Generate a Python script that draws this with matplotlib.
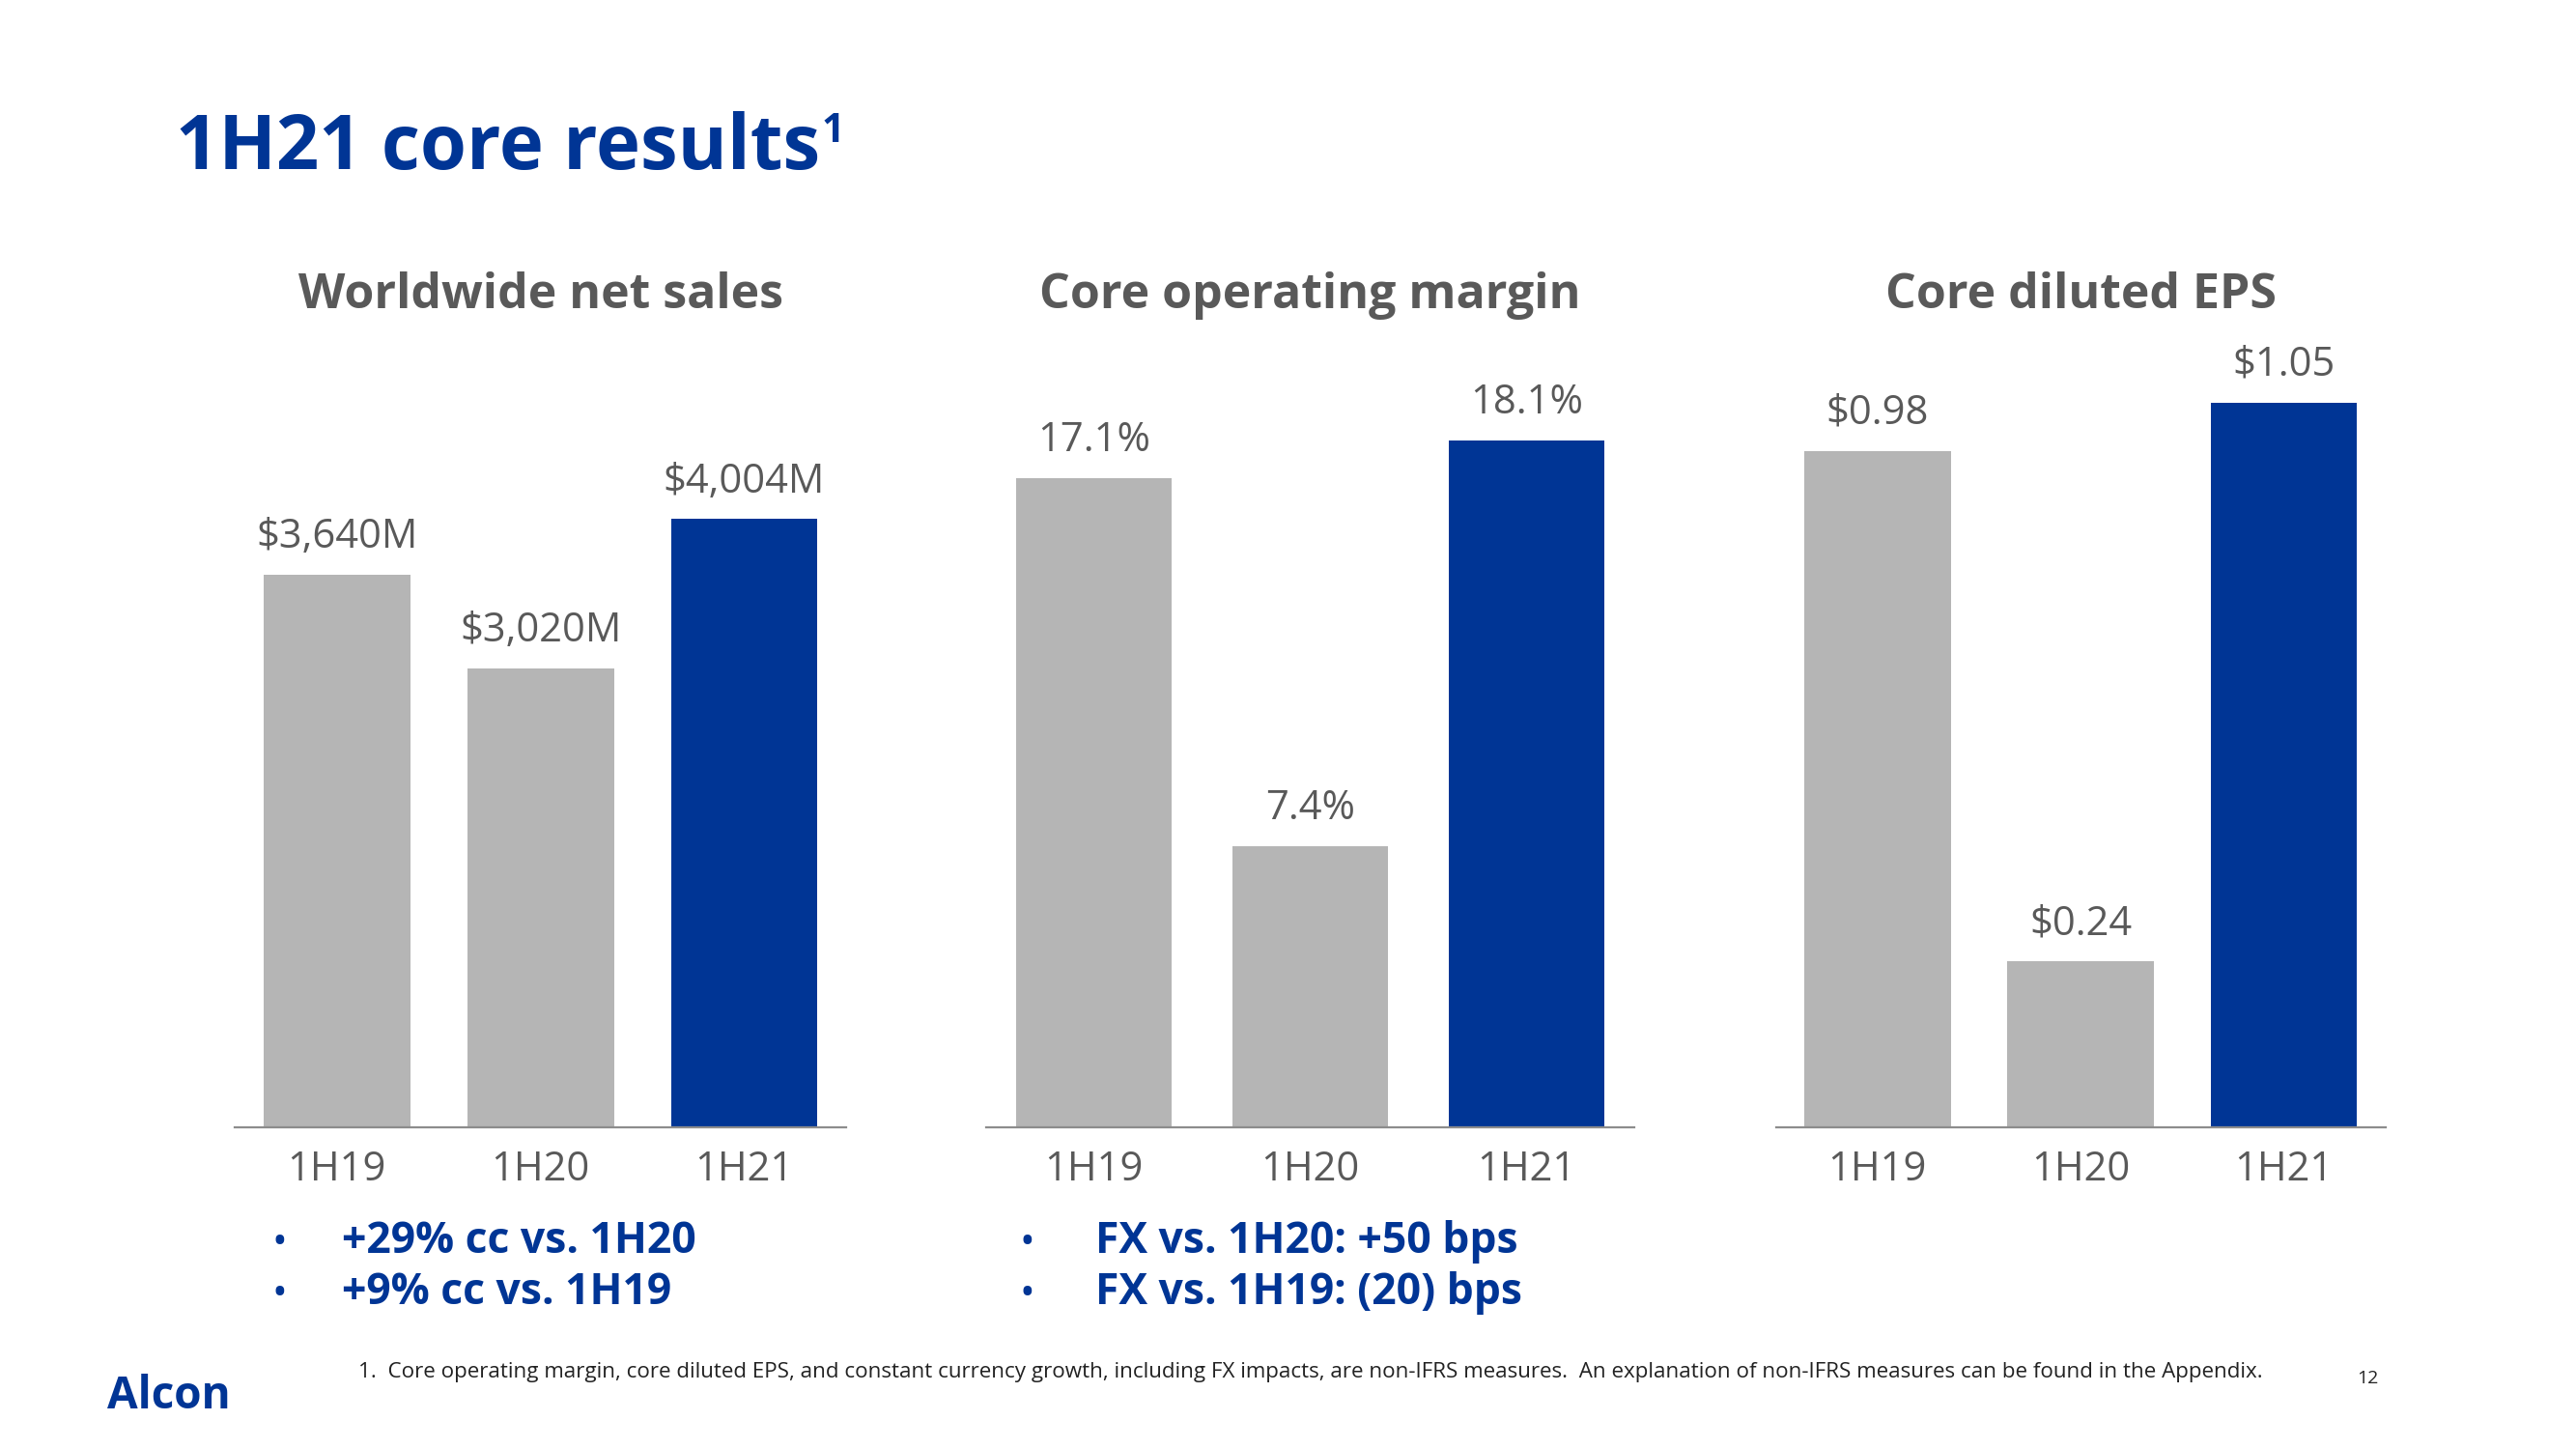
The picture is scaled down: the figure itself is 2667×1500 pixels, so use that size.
import matplotlib
matplotlib.use("Agg")
import matplotlib.pyplot as plt

# === Data ===
periods = ["1H19", "1H20", "1H21"]
net_sales = [3640, 3020, 4004]
op_margin = [17.1, 7.4, 18.1]
eps = [0.98, 0.24, 1.05]

sales_labels = ["$3,640M", "$3,020M", "$4,004M"]
margin_labels = ["17.1%", "7.4%", "18.1%"]
eps_labels = ["$0.98", "$0.24", "$1.05"]

panel_titles = ["Worldwide net sales", "Core operating margin", "Core diluted EPS"]
bullets_sales = ["+29% cc vs. 1H20", "+9% cc vs. 1H19"]
bullets_margin = ["FX vs. 1H20: +50 bps", "FX vs. 1H19: (20) bps"]

# === Style ===
BLUE = "#003595"
GRAY_BAR = "#B5B5B5"
TEXT_GRAY = "#595959"
plt.rcParams["font.family"] = ["Open Sans", "DejaVu Sans"]

W, H = 1568, 882  # layout grid (reference pixels, shrunk)


def fx(x):
    return x / W


def fy(y):
    return 1 - y / H


fig = plt.figure(figsize=(26.67, 15), dpi=100)

# axes boxes: left, right (x) in grid px; baseline at 686, top at 200
boxes = [(143, 515), (600, 995), (1081, 1452)]
ylims = [(686 - 200) / 0.0924, (686 - 200) / 23.1, (686 - 200) / 420]
values = [net_sales, op_margin, eps]
labels = [sales_labels, margin_labels, eps_labels]
colors = [GRAY_BAR, GRAY_BAR, BLUE]

for (x0, x1), top, vals, labs, title in zip(boxes, ylims, values, labels, panel_titles):
    ax = fig.add_axes([fx(x0), fy(686), (x1 - x0) / W, (686 - 200) / H])
    ax.bar(range(3), vals, width=0.72, color=colors)
    ax.set_xlim(-0.5, 2.5)
    ax.set_ylim(0, top)
    for i, (v, lab) in enumerate(zip(vals, labs)):
        ax.annotate(lab, (i, v), xytext=(0, 28), textcoords="offset points",
                    ha="center", va="center", fontsize=30, color=TEXT_GRAY)
    for s in ["top", "right", "left"]:
        ax.spines[s].set_visible(False)
    ax.spines["bottom"].set_color("#8C8C8C")
    ax.spines["bottom"].set_linewidth(1.6)
    ax.set_yticks([])
    ax.set_xticks(range(3))
    ax.set_xticklabels(periods, fontsize=30, color=TEXT_GRAY)
    ax.tick_params(axis="x", length=0, pad=17)
    ax.patch.set_alpha(0)
    fig.text(fx((x0 + x1) / 2), fy(180), title, ha="center", va="center",
             fontsize=36, fontweight="bold", color=TEXT_GRAY)

# === Title with superscript ===
t = fig.text(fx(107), fy(91), "1H21 core results", ha="left", va="center",
             fontsize=56, fontweight="bold", color=BLUE)
fig.canvas.draw()
bb = t.get_window_extent()
fig.text(bb.x1 / fig.bbox.width + 0.0005, fy(80), "1", ha="left", va="center",
         fontsize=30, fontweight="bold", color=BLUE)

# === Bullets ===
for bx, gap, items in [(170, 38, bullets_sales), (625, 42, bullets_margin)]:
    for k, item in enumerate(items):
        yy = 756 + 31 * k
        fig.text(fx(bx), fy(yy + 1), "\u2022", ha="center", va="center",
                 fontsize=30, color=BLUE)
        fig.text(fx(bx + gap), fy(yy), item, ha="left", va="center",
                 fontsize=32, fontweight="bold", color=BLUE)

# === Footnote, page number, logo ===
fig.text(fx(218), fy(835),
         "1.  Core operating margin, core diluted EPS, and constant currency growth, including FX impacts, "
         "are non-IFRS measures.  An explanation of non-IFRS measures can be found in the Appendix.",
         ha="left", va="center", fontsize=16.1, color="#222222")
fig.text(fx(1441), fy(839), "12", ha="center", va="center", fontsize=14, color="#222222")
fig.text(fx(65), fy(850), "Alcon", ha="left", va="center", fontsize=33,
         fontweight="bold", color=BLUE)

fig.savefig("out.png", dpi=100)
